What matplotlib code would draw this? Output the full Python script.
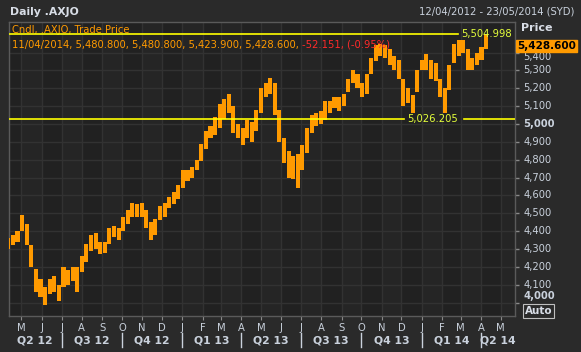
import matplotlib
matplotlib.use("Agg")
import matplotlib.pyplot as plt
import pandas as pd

# weekly price range (week ending Friday)
week_end = pd.date_range("2012-04-13", "2014-04-11", freq="W-FRI")
week_low = [4300, 4320, 4340, 4400, 4320, 4200, 4060, 4030, 3985, 4050,
            4060, 4010, 4090, 4100, 4120, 4060, 4170, 4230, 4290, 4300,
            4270, 4280, 4330, 4370, 4350, 4400, 4440, 4480, 4480, 4480,
            4420, 4350, 4380, 4460, 4480, 4530, 4550, 4580,
            4640, 4680, 4700, 4740, 4790, 4860, 4920, 4940, 4980, 5030,
            5060, 4950, 4920, 4880, 4920, 4900, 4960, 5060, 5150, 5170,
            5050, 4900, 4780, 4700, 4690, 4640, 4740, 4840, 4950, 4990,
            5000, 5020, 5060, 5090, 5070, 5100, 5180, 5230, 5200, 5150,
            5170, 5280, 5350, 5380, 5370, 5330, 5300, 5250, 5100, 5120,
            5060, 5180,
            5300, 5300, 5250, 5240, 5150, 5060, 5190, 5340, 5380, 5400,
            5300, 5300, 5330, 5360, 5420]
week_high = [4360, 4380, 4400, 4490, 4440, 4320, 4190, 4130, 4090, 4130,
             4150, 4100, 4200, 4180, 4200, 4200, 4260, 4330, 4380, 4390,
             4340, 4340, 4420, 4430, 4420, 4480, 4520, 4560, 4550, 4560,
             4520, 4450, 4470, 4540, 4560, 4590, 4620, 4660,
             4740, 4740, 4760, 4800, 4890, 4960, 4990, 5040, 5110, 5140,
             5170, 5100, 5000, 4980, 5020, 5010, 5080, 5200, 5230, 5255,
             5230, 5080, 4920, 4850, 4820, 4830, 4880, 4980, 5050, 5060,
             5070, 5130, 5130, 5150, 5150, 5170, 5250, 5300, 5280, 5230,
             5280, 5370, 5440, 5450, 5440, 5420, 5380, 5360, 5250, 5200,
             5160, 5300,
             5360, 5390, 5360, 5340, 5250, 5200, 5330, 5450, 5470, 5470,
             5420, 5370, 5400, 5430, 5505]

last_bar = "11/04/2014, 5,480.800, 5,480.800, 5,423.900, 5,428.600, "
last_chg = "-52.151, (-0.95%)"
last_close = 5428.600
hi_line = 5504.998
lo_line = 5026.205
y_ticks = [4000, 4100, 4200, 4300, 4400, 4500, 4600, 4700,
           4800, 4900, 5000, 5100, 5200, 5300, 5400]

fig_bg = "#2a2a2a"
plot_bg = "#212121"
grid_c = "#323232"
text_c = "#c9d1dc"
orange = "#ff9a00"
fs = 7.2

fig = plt.figure(figsize=(5.81, 3.52), dpi=100, facecolor=fig_bg)
ax = fig.add_axes([9 / 581, 1 - 316 / 352, 506 / 581, 294 / 352])
ax.set_facecolor(plot_bg)

x0 = pd.Timestamp("2012-04-12")
x1 = pd.Timestamp("2014-05-23")
ax.set_xlim(x0, x1)
ax.set_ylim(3925, 5571)

# month columns, alternate shading + grid
months = pd.date_range("2012-05-01", "2014-05-01", freq="MS")
edges = [x0] + list(months) + [x1]
for i in range(len(edges) - 1):
    if i % 2 == 1:
        ax.axvspan(edges[i], edges[i + 1], color="#252525", lw=0, zorder=0)
for m in months:
    ax.axvline(m, color=grid_c, lw=1, zorder=1)
for v in y_ticks:
    ax.axhline(v, color=grid_c, lw=1, zorder=1)

# candles (weekly ranges)
centers = week_end - pd.Timedelta(days=2)
heights = [h - l for h, l in zip(week_high, week_low)]
ax.bar(centers, heights, bottom=week_low, width=6.2, color=orange,
       lw=0, zorder=3)

# horizontal yellow lines with labels
yel = "#ffff00"
lab = "#e4ff3c"
ax.axhline(hi_line, xmin=0, xmax=0.887, color=yel, lw=1.2, zorder=4)
ax.text(0.893, hi_line, f"{hi_line:,.3f}", transform=ax.get_yaxis_transform(),
        color=lab, fontsize=fs, va="center", ha="left", zorder=5)
ax.axhline(lo_line, xmin=0, xmax=0.78, color=yel, lw=1.2, zorder=4)
ax.axhline(lo_line, xmin=0.899, xmax=1, color=yel, lw=1.2, zorder=4)
ax.text(0.787, lo_line, f"{lo_line:,.3f}", transform=ax.get_yaxis_transform(),
        color=lab, fontsize=fs, va="center", ha="left", zorder=5)

# legend lines
ax.text(0.006, 0.973, "Cndl, .AXJO, Trade Price", transform=ax.transAxes,
        color=orange, fontsize=fs, va="center", ha="left", zorder=3)
t1 = ax.text(0.006, 0.922, last_bar, transform=ax.transAxes,
             color=orange, fontsize=fs, va="center", ha="left", zorder=5)
ax.annotate(last_chg, xy=(1, 0.5), xycoords=t1, va="center", ha="left",
            color="#ff2a2a", fontsize=fs, zorder=5)

# frame
for s in ax.spines.values():
    s.set_color("#5a5a5a")
    s.set_linewidth(1)

# y axis on the right, labels drawn as texts
ax.yaxis.tick_right()
ax.set_yticks(y_ticks)
ax.set_yticklabels([])
ax.tick_params(axis="y", length=3, color="#8a8a8a", width=1, right=True, left=False)
ytr = ax.get_yaxis_transform()
for v in y_ticks:
    yy = v
    if v == 5400:
        yy = v - 25
    if v == 4000:
        yy = v + 35
    bold = v in (4000, 5000)
    ax.text(1.016, yy, f"{v:,}", transform=ytr, color=text_c, fontsize=fs,
            va="center", ha="left", fontweight="bold" if bold else "normal",
            clip_on=False)
ax.text(1.004, last_close + 8, f"{last_close:,.3f}", transform=ytr, color="black",
        fontsize=7.5, fontweight="bold", va="center", ha="left", clip_on=False,
        bbox=dict(boxstyle="square,pad=0.12", fc=orange, ec=orange))

# x axis: month letters, quarter labels
ax.set_xticks(months)
ax.set_xticklabels([m.strftime("%b")[0] for m in months])
ax.tick_params(axis="x", length=3, color="#8a8a8a", labelcolor=text_c,
               labelsize=fs, pad=2)
xtr = ax.get_xaxis_transform()
quarters = pd.date_range("2012-04-01", "2014-04-01", freq="QS")
for q in quarters:
    qa = max(q, x0)
    qb = min(q + pd.DateOffset(months=3), x1)
    mid = qa + (qb - qa) / 2
    ax.text(mid, -0.082, f"Q{q.quarter} {q.strftime('%y')}", transform=xtr,
            color=text_c, fontsize=7.8, fontweight="bold", ha="center",
            va="center", clip_on=False)
    if q > x0:
        ax.plot([q, q], [-0.058, -0.105], transform=xtr, color=text_c,
                lw=1, clip_on=False)

# header
fig.text(10 / 581, 1 - 12 / 352, "Daily .AXJO", color="#d8dde6", fontsize=7.8,
         fontweight="bold", va="center", ha="left")
fig.text(574 / 581, 1 - 12 / 352, "12/04/2012 - 23/05/2014 (SYD)", color=text_c,
         fontsize=fs, va="center", ha="right")
fig.text(521 / 581, 1 - 28 / 352, "Price", color="#d8dde6", fontsize=8,
         fontweight="bold", va="center", ha="left")
fig.text(525 / 581, 1 - 311 / 352, "Auto", color="#d8dde6", fontsize=7.5,
         fontweight="bold", va="center", ha="left",
         bbox=dict(boxstyle="square,pad=0.15", fc=fig_bg, ec="#bfbfbf", lw=0.8))

fig.savefig("out.png", dpi=100, facecolor=fig_bg)
